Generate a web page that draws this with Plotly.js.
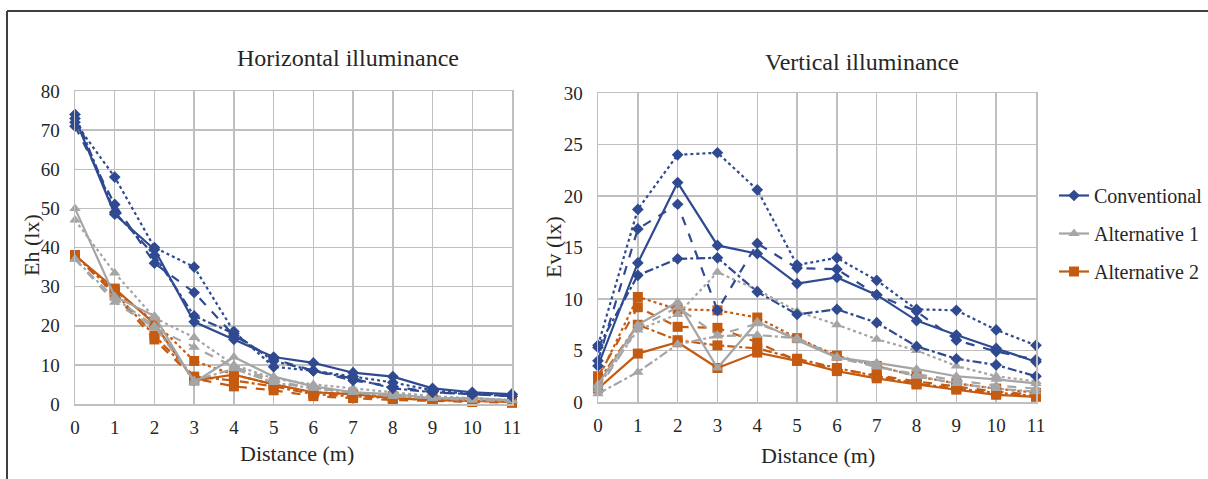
<!DOCTYPE html>
<html>
<head>
<meta charset="utf-8">
<script src="https://cdn.plot.ly/plotly-3.0.1.min.js"></script>
<style>html,body{margin:0;padding:0;background:#fff;}#chart{width:1208px;height:479px;}</style>
</head>
<body>
<div id="chart"></div>
<script>
const distance = [0, 1, 2, 3, 4, 5, 6, 7, 8, 9, 10, 11];

// Horizontal illuminance Eh (lx)
const convSolidH    = [73, 48.5, 39.5, 21, 16.5, 12, 10.5, 8, 7, 4, 3, 2.5];
const convDotH      = [72, 58, 40, 35, 18.5, 9.5, 8.5, 7, 5.5, 3.5, 2.5, 2.5];
const convDashH     = [71, 51, 36, 28.5, 17.5, 11.5, 8.5, 6, 4.5, 3, 2.5, 2];
const convDashDotH  = [74, 49, 38, 22.5, 18, 11, 8.5, 6.5, 4, 3, 2.5, 2];
const alt1SolidH    = [50, 27.5, 22.5, 5.5, 12, 7, 4.5, 3, 2.5, 1.5, 1.5, 1];
const alt1DotH      = [47, 33.5, 22, 17, 10, 6.5, 5, 4, 3, 2, 1.5, 1];
const alt1DashH     = [37, 26, 19.5, 14.5, 9.5, 6, 4, 3, 2, 1.5, 1, 1];
const alt1DashDotH  = [37, 27, 20, 6, 9, 5.5, 4, 3, 2, 1.5, 1, 0.8];
const alt2SolidH    = [38, 29.5, 20.5, 6, 7.5, 5, 3, 2.5, 1.5, 1, 0.8, 0.5];
const alt2DotH      = [38, 29, 21, 11, 7.5, 5, 3, 2.5, 2, 1.5, 1, 0.8];
const alt2DashH     = [38, 28, 16.5, 6.5, 4.5, 3.5, 2, 1.5, 1, 0.8, 0.5, 0.3];
const alt2DashDotH  = [38, 28.5, 17.5, 7, 6, 4.5, 2.5, 2, 1.5, 1, 0.8, 0.5];

// Vertical illuminance Ev (lx)
const convSolidV    = [3.5, 13.5, 21.3, 15.2, 14.4, 11.5, 12.1, 10.4, 7.9, 6.5, 5.2, 3.9];
const convDotV      = [5.5, 18.7, 24, 24.2, 20.6, 13.3, 14, 11.8, 9, 8.9, 7, 5.5];
const convDashV     = [4, 16.8, 19.2, 8.9, 15.4, 13, 12.9, 10.4, 8.8, 6, 4.9, 4.1];
const convDashDotV  = [5.3, 12.3, 13.9, 14, 10.7, 8.5, 9, 7.7, 5.4, 4.2, 3.6, 2.5];
const alt1SolidV    = [1.7, 7.5, 9.7, 3.3, 7.8, 6, 4.3, 3.8, 3.2, 2.5, 2.2, 1.8];
const alt1DotV      = [1.5, 7, 8.5, 12.6, 10.9, 8.8, 7.5, 6.1, 5, 3.5, 2.5, 2];
const alt1DashV     = [1.2, 7.2, 9.2, 6.5, 7.6, 6.2, 4.3, 3.4, 2.7, 2.1, 1.6, 1.3];
const alt1DashDotV  = [0.8, 2.9, 5.6, 6.4, 6.5, 6.2, 4.4, 3.5, 2.5, 1.8, 1.3, 1];
const alt2SolidV    = [1.3, 4.7, 5.8, 3.3, 4.8, 4, 3, 2.3, 1.7, 1.2, 0.7, 0.5];
const alt2DotV      = [2.2, 10.2, 9, 8.9, 8.2, 6.2, 4.5, 3.5, 2.5, 1.8, 1.3, 0.9];
const alt2DashV     = [2.5, 9.2, 7.3, 7.2, 5.8, 4, 3.2, 2.6, 2, 1.5, 1, 0.7];
const alt2DashDotV  = [2, 7.5, 6, 5.5, 5.2, 4.2, 3.3, 2.5, 1.8, 1.3, 0.9, 0.6];

const seriesNames = ["Conventional", "Alternative 1", "Alternative 2"];
const colors = ["#2F4A91", "#A5A5A5", "#C55A11"];
const symbols = ["diamond", "triangle-up", "square"];
const msizes = [9, 10, 10];
const dashes = ["solid", "dot", "dash", "dashdot"];

const hData = [
  [convSolidH, convDotH, convDashH, convDashDotH],
  [alt1SolidH, alt1DotH, alt1DashH, alt1DashDotH],
  [alt2SolidH, alt2DotH, alt2DashH, alt2DashDotH]
];
const vData = [
  [convSolidV, convDotV, convDashV, convDashDotV],
  [alt1SolidV, alt1DotV, alt1DashV, alt1DashDotV],
  [alt2SolidV, alt2DotV, alt2DashV, alt2DashDotV]
];

const traces = [];
function addPanel(data, xa, ya, legendOn) {
  for (let s = 2; s >= 0; s--) {
    for (let d = 3; d >= 0; d--) {
      traces.push({
        x: distance, y: data[s][d], xaxis: xa, yaxis: ya,
        type: "scatter", mode: "lines+markers",
        name: seriesNames[s], legendgroup: "g" + s,
        legendrank: s + 1,
        showlegend: legendOn && d === 0,
        line: {color: colors[s], width: 2.2, dash: dashes[d]},
        marker: {color: colors[s], symbol: symbols[s], size: msizes[s]},
        cliponaxis: false
      });
    }
  }
}
addPanel(hData, "x", "y", false);
addPanel(vData, "x2", "y2", true);

const FAM = "'Liberation Serif', 'Times New Roman', Times, serif";
const font = {family: FAM, color: "#262626"};
const f = (size) => ({family: FAM, color: "#262626", size: size});
const grid = "#BFBFBF";
function xAxis(domain, anchor) {
  return {
    domain: domain, anchor: anchor, range: [0, 11], dtick: 1, tick0: 0,
    showgrid: true, gridcolor: grid, gridwidth: 1.5, zeroline: false,
    showline: true, linecolor: grid, linewidth: 1.5, mirror: true,
    ticks: "outside", ticklen: 6, tickcolor: "rgba(0,0,0,0)",
    tickfont: f(19), automargin: false
  };
}
function yAxis(domain, anchor, max, dtick) {
  return {
    domain: domain, anchor: anchor, range: [0, max], dtick: dtick, tick0: 0,
    showgrid: true, gridcolor: grid, gridwidth: 1.5, zeroline: false,
    showline: true, linecolor: grid, linewidth: 1.5, mirror: true,
    ticks: "outside", ticklen: 10, tickcolor: "rgba(0,0,0,0)",
    tickfont: f(19), automargin: false
  };
}
function ann(text, x, y, size, angle) {
  return {text: text, xref: "paper", yref: "paper", x: x/1208, y: 1 - y/479,
    xanchor: "center", yanchor: "middle", showarrow: false, font: f(size), textangle: angle || 0};
}

const layout = {
  width: 1208, height: 479,
  margin: {l: 0, r: 0, t: 0, b: 0, autoexpand: false},
  paper_bgcolor: "#fff", plot_bgcolor: "#fff",
  font: font,
  showlegend: true,
  xaxis: xAxis([75/1208, 512/1208], "y"),
  yaxis: yAxis([(479-404)/479, (479-91)/479], "x", 80, 10),
  xaxis2: xAxis([598/1208, 1036/1208], "y2"),
  yaxis2: yAxis([(479-402)/479, (479-93)/479], "x2", 30, 5),
  legend: {
    x: 1054/1208, y: 1 - 176/479, xanchor: "left", yanchor: "top",
    font: f(20), traceorder: "grouped",
    tracegroupgap: 9, itemwidth: 30, bgcolor: "rgba(0,0,0,0)"
  },
  annotations: [
    ann("Horizontal illuminance", 348, 58, 24),
    ann("Vertical illuminance", 862, 62, 24),
    ann("Distance (m)", 297, 453, 22),
    ann("Distance (m)", 818, 455, 22),
    ann("Eh (lx)", 31, 245, 22, -90),
    ann("Ev (lx)", 553, 247, 22, -90)
  ],
  shapes: [
    {type: "line", xref: "paper", yref: "paper", x0: 7/1208, x1: 1, y0: 1 - 11/479, y1: 1 - 11/479,
     line: {color: "#404040", width: 2}},
    {type: "line", xref: "paper", yref: "paper", x0: 7/1208, x1: 7/1208, y0: 0, y1: 1 - 11/479,
     line: {color: "#404040", width: 2}}
  ]
};

Plotly.newPlot("chart", traces, layout, {displayModeBar: false, staticPlot: true});
</script>
</body>
</html>
